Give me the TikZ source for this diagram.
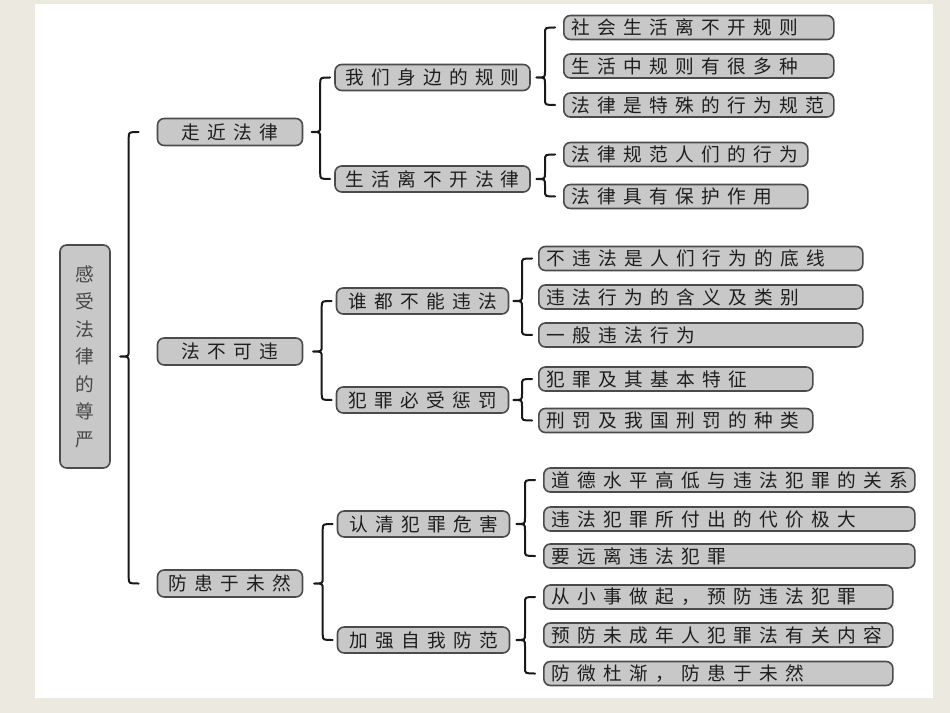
\documentclass[tikz,border=0pt]{standalone}
\usepackage{fontspec}
\newfontfamily\cjk[LetterSpace=39]{Noto Sans CJK SC}
\newfontfamily\cjkv{Noto Sans CJK SC}
\usetikzlibrary{calc}
\definecolor{bgbeige}{RGB}{236,233,225}
\definecolor{boxfill}{RGB}{200,200,200}
\definecolor{boxline}{RGB}{75,75,75}
\definecolor{txt}{RGB}{30,30,30}
\definecolor{rtxt}{RGB}{70,70,70}
\definecolor{bl}{RGB}{25,25,25}
\newcommand\bracelink[4]{%
 \draw[bline] let \p1=(#1.west), \p2=(#2.west), \p3=(#3.east) in
 (\x1-#4,\y1) .. controls (\x1-#4-7.5pt,\y1) .. (\x1-#4-7.5pt,\y1-4.5pt)
 -- (\x1-#4-7.5pt,\y3+4.5pt) .. controls (\x1-#4-7.5pt,\y3) .. (\x1-#4-14pt,\y3)
 .. controls (\x1-#4-7.5pt,\y3) .. (\x1-#4-7.5pt,\y3-4.5pt)
 -- (\x1-#4-7.5pt,\y2+4.5pt) .. controls (\x1-#4-7.5pt,\y2) .. (\x1-#4,\y2);}
\begin{document}
\begin{tikzpicture}[x=0.75pt,y=-0.75pt,
 box/.style={draw=boxline, fill=boxfill, line width=1.2pt, rounded corners=5pt, text=txt, font=\cjk\fontsize{14pt}{16pt}\selectfont, inner sep=0pt},
 mid/.style={box, minimum height=19.5pt, minimum width=#1},
 leaf/.style={box, anchor=west, minimum height=18pt, inner xsep=6pt, text width=#1, align=left},
 bline/.style={draw=bl, line width=1.5pt, line cap=round, line join=round}]
\useasboundingbox (0,0) rectangle (950,713);
\fill[bgbeige] (0,0) rectangle (950,713);
\fill[white] (35,4) rectangle (933,698);

\node[box, minimum width=37.5pt, minimum height=167.25pt, align=center, text=rtxt, font=\cjkv\fontsize{14pt}{20.6pt}\selectfont] (R) at (85,356.5) {感\\受\\法\\律\\的\\尊\\严};

\node[mid=108.75pt, minimum height=20.25pt] (a1) at (230,132) {走近法律};
\node[mid=108.75pt, minimum height=20.25pt] (a2) at (230,351.5) {法不可违};
\node[mid=108.75pt, minimum height=20.25pt] (a3) at (230,583.5) {防患于未然};

\node[mid=146.25pt] (b1) at (432.5,77.5) {我们身边的规则};
\node[mid=146.25pt] (b2) at (432.5,179) {生活离不开法律};
\node[mid=129pt] (b3) at (422.5,301) {谁都不能违法};
\node[mid=129pt] (b4) at (422.5,400) {犯罪必受惩罚};
\node[mid=129pt] (b5) at (423.5,524) {认清犯罪危害};
\node[mid=129pt] (b6) at (423.5,640) {加强自我防范};

\node[leaf=190.5pt] (c1) at (563,27.5) {社会生活离不开规则};
\node[leaf=190.5pt] (c2) at (563,66) {生活中规则有很多种};
\node[leaf=190.5pt] (c3) at (563,105) {法律是特殊的行为规范};
\node[leaf=171pt] (c4) at (563,154.5) {法律规范人们的行为};
\node[leaf=171pt] (c5) at (563,196.5) {法律具有保护作用};
\node[leaf=231pt] (c6) at (538,258.5) {不违法是人们行为的底线};
\node[leaf=231pt] (c7) at (538,297) {违法行为的含义及类别};
\node[leaf=231pt] (c8) at (538,335) {一般违法行为};
\node[leaf=193.5pt] (c9) at (538,379) {犯罪及其基本特征};
\node[leaf=193.5pt] (c10) at (538,420.5) {刑罚及我国刑罚的种类};
\node[leaf=266.25pt] (c11) at (543,480) {道德水平高低与违法犯罪的关系};
\node[leaf=266.25pt] (c12) at (543,519) {违法犯罪所付出的代价极大};
\node[leaf=266.25pt] (c13) at (543,556) {要远离违法犯罪};
\node[leaf=249.75pt] (c14) at (543,597) {从小事做起，预防违法犯罪};
\node[leaf=249.75pt] (c15) at (543,635) {预防未成年人犯罪法有关内容};
\node[leaf=249.75pt] (c16) at (543,673.5) {防微杜渐，防患于未然};

\bracelink{a1}{a3}{R}{13.5pt}
\bracelink{b1}{b2}{a1}{3pt}
\bracelink{b3}{b4}{a2}{3pt}
\bracelink{b5}{b6}{a3}{3pt}
\bracelink{c1}{c3}{b1}{6pt}
\bracelink{c4}{c5}{b2}{6pt}
\bracelink{c6}{c8}{b3}{4.5pt}
\bracelink{c9}{c10}{b4}{4.5pt}
\bracelink{c11}{c13}{b5}{6pt}
\bracelink{c14}{c16}{b6}{6pt}
\end{tikzpicture}
\end{document}
